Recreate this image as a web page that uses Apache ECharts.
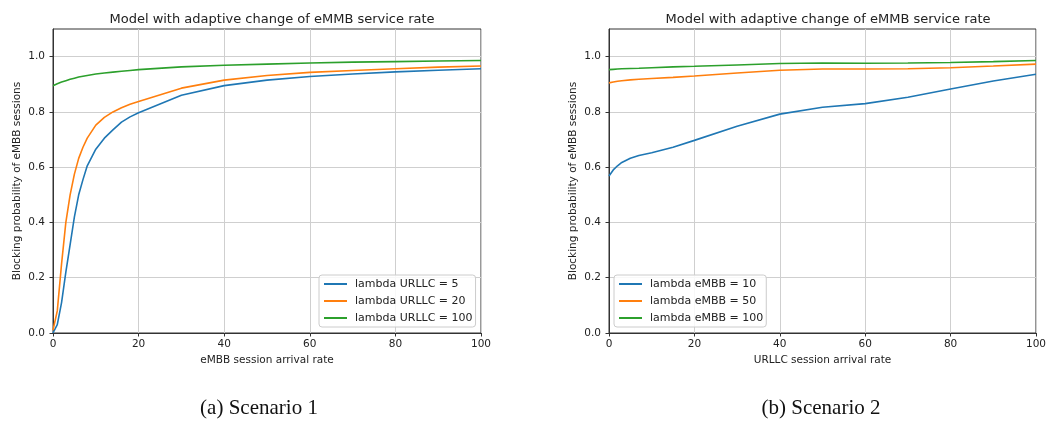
<!DOCTYPE html>
<html>
<head>
<meta charset="utf-8">
<script src="https://cdn.jsdelivr.net/npm/echarts@6/dist/echarts.min.js"></script>
<style>
html,body{margin:0;padding:0;background:#fff;}
#chart{width:1049px;height:421px;}
</style>
</head>
<body>
<div id="chart"></div>
<script>
// ---- Data ----
const chartTitle = 'Model with adaptive change of eMMB service rate';
const captions = ['(a) Scenario 1', '(b) Scenario 2'];
const yAxisName = 'Blocking probability of eMBB sessions';
const xAxisNames = ['eMBB session arrival rate', 'URLLC session arrival rate'];
const yTicks = [0, 0.2, 0.4, 0.6, 0.8, 1.0];
const xTicks = [0, 20, 40, 60, 80, 100];

// Scenario 1: x = eMBB session arrival rate
const s1X = [0,1,2,3,4,5,6,7,8,10,12,14,16,18,20,30,40,50,60,70,80,90,100];
const s1Names = ['lambda URLLC = 5', 'lambda URLLC = 20', 'lambda URLLC = 100'];
const s1Urllc5   = [0.0,0.03,0.11,0.22,0.32,0.42,0.50,0.555,0.605,0.665,0.705,0.735,0.763,0.782,0.797,0.860,0.895,0.915,0.928,0.937,0.945,0.951,0.956];
const s1Urllc20  = [0.01,0.08,0.25,0.40,0.50,0.575,0.632,0.672,0.705,0.752,0.780,0.800,0.815,0.828,0.838,0.886,0.915,0.932,0.943,0.950,0.956,0.962,0.966];
const s1Urllc100 = [0.895,0.902,0.908,0.913,0.918,0.922,0.926,0.929,0.932,0.937,0.941,0.944,0.947,0.950,0.953,0.963,0.969,0.973,0.977,0.980,0.982,0.984,0.986];

// Scenario 2: x = URLLC session arrival rate
const s2X = [0,1,2,3,5,7,10,15,20,30,40,50,60,70,80,90,100];
const s2Names = ['lambda eMBB = 10', 'lambda eMBB = 50', 'lambda eMBB = 100'];
const s2Embb10  = [0.568,0.590,0.605,0.617,0.632,0.642,0.652,0.672,0.697,0.748,0.792,0.817,0.830,0.853,0.883,0.912,0.936];
const s2Embb50  = [0.905,0.908,0.911,0.913,0.916,0.918,0.921,0.925,0.930,0.941,0.951,0.955,0.955,0.956,0.960,0.966,0.973];
const s2Embb100 = [0.953,0.954,0.955,0.956,0.957,0.958,0.960,0.963,0.965,0.970,0.975,0.977,0.976,0.977,0.979,0.982,0.986];

const colors = ['#1f77b4', '#ff7f0e', '#2ca02c'];
// ---- End data ----

const zip = (xs, ys) => xs.map((x, i) => [x, ys[i]]);
const font = 'DejaVu Sans';
const txt = '#222';
const gridColor = '#cfcfcf';

function xAxis(i) {
  return {
    type: 'value', gridIndex: i, min: 0, max: 100, interval: 20,
    name: xAxisNames[i], nameLocation: 'middle', nameGap: 22,
    nameTextStyle: {fontFamily: font, fontSize: 10.5, color: txt},
    axisLine: {show: true, lineStyle: {color: '#333', width: 1}},
    axisTick: {show: true, length: 3.5, lineStyle: {color: '#333'}},
    axisLabel: {fontFamily: font, fontSize: 10.5, color: txt, margin: 6},
    splitLine: {show: true, lineStyle: {color: gridColor, width: 1}}
  };
}
function yAxis(i) {
  return {
    type: 'value', gridIndex: i, min: 0, max: 1.1,
    name: yAxisName, nameLocation: 'middle', nameGap: 30,
    nameTextStyle: {fontFamily: font, fontSize: 10.5, color: txt},
    axisLine: {show: true, lineStyle: {color: '#333', width: 1}},
    axisTick: {show: true, length: 3.5, lineStyle: {color: '#333'}, customValues: yTicks},
    axisLabel: {fontFamily: font, fontSize: 10.5, color: txt, margin: 8,
      customValues: yTicks, formatter: v => v.toFixed(1)},
    splitLine: {show: true, lineStyle: {color: gridColor, width: 1}}
  };
}
function line(name, xs, ys, idx, c) {
  return {
    type: 'line', name: name, xAxisIndex: idx, yAxisIndex: idx,
    data: zip(xs, ys), symbol: 'none', showSymbol: false, smooth: false,
    lineStyle: {color: colors[c], width: 1.6}, itemStyle: {color: colors[c]},
    animation: false, z: 3
  };
}
function legend(names, pos) {
  return Object.assign({
    orient: 'vertical', data: names,
    icon: 'rect', itemWidth: 23, itemHeight: 2, itemGap: 6,
    padding: [3.5, 3, 3.5, 5],
    backgroundColor: 'rgba(255,255,255,0.85)',
    borderColor: '#cccccc', borderWidth: 1, borderRadius: 3,
    textStyle: {fontFamily: font, fontSize: 11, color: txt, padding: [0, 0, 0, 3]},
    selectedMode: false
  }, pos);
}

const chart = echarts.init(document.getElementById('chart'), null, {renderer: 'canvas'});
chart.setOption({
  backgroundColor: '#fff',
  animation: false,
  title: [
    {text: chartTitle, left: 267, top: 8, textAlign: 'center',
     textStyle: {fontFamily: font, fontSize: 13, fontWeight: 'normal', color: txt}},
    {text: chartTitle, left: 823, top: 8, textAlign: 'center',
     textStyle: {fontFamily: font, fontSize: 13, fontWeight: 'normal', color: txt}},
    {text: captions[0], left: 254, top: 393, textAlign: 'center',
     textStyle: {fontFamily: 'Liberation Serif', fontSize: 21, fontWeight: 'normal', color: '#111'}},
    {text: captions[1], left: 816, top: 393, textAlign: 'center',
     textStyle: {fontFamily: 'Liberation Serif', fontSize: 21, fontWeight: 'normal', color: '#111'}}
  ],
  grid: [
    {left: 53, right: 568, top: 29, bottom: 88, show: true, borderColor: '#333', borderWidth: 1, backgroundColor: 'transparent'},
    {left: 609, right: 12, top: 29, bottom: 88, show: true, borderColor: '#333', borderWidth: 1, backgroundColor: 'transparent'}
  ],
  xAxis: [xAxis(0), xAxis(1)],
  yAxis: [yAxis(0), yAxis(1)],
  legend: [
    legend(s1Names, {left: 319, top: 275}),
    legend(s2Names, {left: 614, top: 275})
  ],
  series: [
    line(s1Names[0], s1X, s1Urllc5, 0, 0),
    line(s1Names[1], s1X, s1Urllc20, 0, 1),
    line(s1Names[2], s1X, s1Urllc100, 0, 2),
    line(s2Names[0], s2X, s2Embb10, 1, 0),
    line(s2Names[1], s2X, s2Embb50, 1, 1),
    line(s2Names[2], s2X, s2Embb100, 1, 2)
  ]
});
</script>
</body>
</html>
